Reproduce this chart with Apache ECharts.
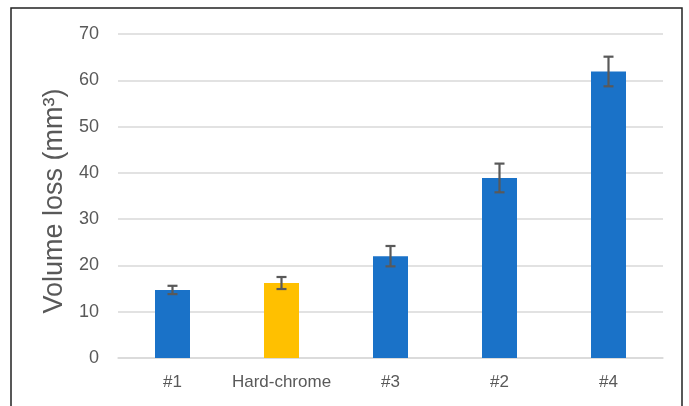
<!DOCTYPE html>
<html>
<head>
<meta charset="utf-8">
<script src="https://cdn.jsdelivr.net/npm/echarts@6/dist/echarts.min.js"></script>
<style>
  html, body { margin: 0; padding: 0; background: #fff; }
  #chart { width: 689px; height: 406px; }
</style>
</head>
<body>
<div id="chart"></div>
<script>
// Samples and their measured volume loss (mm³) with standard deviation
const categories = ['#1', 'Hard-chrome', '#3', '#2', '#4'];
const volumeLoss = [14.7, 16.2, 22.0, 38.9, 61.9];
const deviation = [0.9, 1.3, 2.2, 3.1, 3.2];
const barColors = ['#1a72c8', '#ffc000', '#1a72c8', '#1a72c8', '#1a72c8'];
const yTicks = [0, 10, 20, 30, 40, 50, 60, 70];

const FONT = '"Liberation Sans", Arial, sans-serif';
const TEXT = '#595959';

const chart = echarts.init(document.getElementById('chart'), null, { renderer: 'canvas' });

chart.setOption({
  animation: false,
  backgroundColor: '#fff',
  graphic: [{
    type: 'rect',
    shape: { x: 11, y: 8, width: 671, height: 420 },
    style: { fill: 'none', stroke: '#222', lineWidth: 1.5 },
    z: 100
  }],
  grid: { left: 118, right: 26, top: 34, bottom: 48, containLabel: false },
  xAxis: {
    type: 'category',
    data: categories,
    axisTick: { show: false },
    axisLine: { lineStyle: { color: '#d9d9d9', width: 1.5 } },
    axisLabel: { color: TEXT, fontSize: 17, fontFamily: FONT, margin: 16, interval: 0 }
  },
  yAxis: {
    type: 'value',
    min: yTicks[0],
    max: yTicks[yTicks.length - 1],
    interval: 10,
    name: 'Volume loss (mm³)',
    nameLocation: 'middle',
    nameGap: 47,
    nameTextStyle: { color: TEXT, fontSize: 27, fontFamily: FONT, padding: [0, 10, 0, 0] },
    axisLine: { show: false },
    axisTick: { show: false },
    axisLabel: { color: TEXT, fontSize: 18, fontFamily: FONT, margin: 19 },
    splitLine: { lineStyle: { color: '#d9d9d9', width: 1.5 } }
  },
  series: [
    {
      type: 'bar',
      barWidth: 35,
      data: volumeLoss.map((v, i) => ({ value: v, itemStyle: { color: barColors[i] } }))
    },
    {
      type: 'custom',
      z: 10,
      data: volumeLoss.map((v, i) => [i, v - deviation[i], v + deviation[i]]),
      renderItem: function (params, api) {
        const lo = api.coord([api.value(0), api.value(1)]);
        const hi = api.coord([api.value(0), api.value(2)]);
        const half = 5;
        const style = { stroke: '#595959', lineWidth: 2.2 };
        return {
          type: 'group',
          children: [
            { type: 'line', shape: { x1: hi[0], y1: hi[1], x2: lo[0], y2: lo[1] }, style },
            { type: 'line', shape: { x1: hi[0] - half, y1: hi[1], x2: hi[0] + half, y2: hi[1] }, style },
            { type: 'line', shape: { x1: lo[0] - half, y1: lo[1], x2: lo[0] + half, y2: lo[1] }, style }
          ]
        };
      }
    }
  ]
});
</script>
</body>
</html>
